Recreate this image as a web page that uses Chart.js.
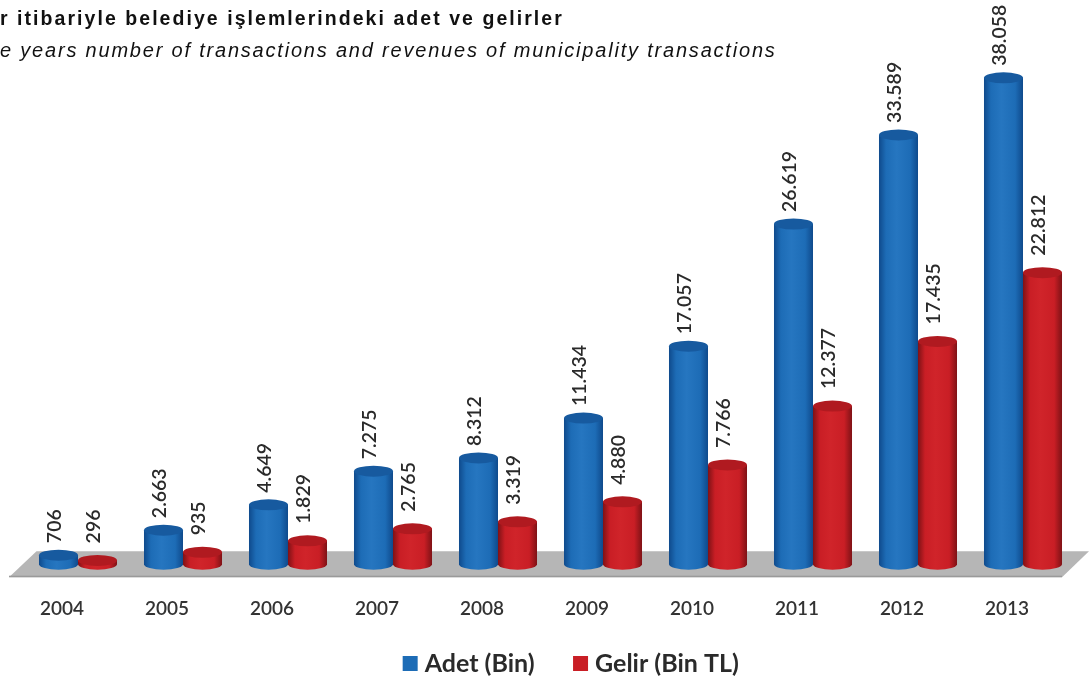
<!DOCTYPE html>
<html><head><meta charset="utf-8">
<style>html,body{margin:0;padding:0;background:#fff}canvas{display:block}</style>
<script src="https://cdn.jsdelivr.net/npm/chart.js@4"></script></head>
<body><canvas id="c" width="1089" height="679"></canvas>
<script>
const years = ['2004','2005','2006','2007','2008','2009','2010','2011','2012','2013'];
const adet = [706,2663,4649,7275,8312,11434,17057,26619,33589,38058];
const gelir = [296,935,1829,2765,3319,4880,7766,12377,17435,22812];
const titleTr = 'r itibariyle belediye işlemlerindeki adet ve gelirler';
const titleEn = 'e years number of transactions and revenues of municipality transactions';
const fmt = v => String(v).replace(/\B(?=(\d{3})+$)/g,'.');
const F = 'Lato, sans-serif';
const tone = [
  {edge:'#0f4a8c', mid:'#1d6cb6', top:'#175a9f', hi:'#2676c0', gap:12},
  {edge:'#7f1216', mid:'#c91e25', top:'#b01a20', hi:'#d0242a', gap:17}
];
const cylinder = {
  id:'cylinder',
  afterLayout(chart){
    const l = chart.legend;
    l.left = 29; l.right = chart.width + 29; l.top = 607; l.bottom = 679; l.height = 72;
  },
  beforeDatasetsDraw(chart){
    const {ctx,chartArea:a} = chart;
    ctx.save();
    ctx.fillStyle='#b6b6b6';
    ctx.beginPath();
    ctx.moveTo(a.left+11,a.bottom-13);ctx.lineTo(a.right+13.5,a.bottom-13);
    ctx.lineTo(a.right-13.5,a.bottom+13);ctx.lineTo(a.left-16.5,a.bottom+13);ctx.closePath();ctx.fill();
    ctx.fillStyle='#9a9a9a';ctx.fillRect(a.left-16.5,a.bottom+11.5,a.right-a.left+3,1.5);
    ctx.restore();
  },
  afterDatasetsDraw(chart){
    const {ctx} = chart;
    ctx.save();
    [0,1].forEach(d=>{
      const t = tone[d];
      chart.getDatasetMeta(d).data.forEach(el=>{
        const w=el.width, l=el.x-w/2, r=el.x+w/2, ry=5.5;
        const g=ctx.createLinearGradient(l,0,r,0);
        g.addColorStop(0,t.edge);g.addColorStop(.18,t.mid);g.addColorStop(.45,t.hi);g.addColorStop(.8,t.mid);g.addColorStop(1,t.edge);
        ctx.fillStyle=g;
        ctx.beginPath();
        ctx.moveTo(l,el.y);ctx.lineTo(r,el.y);ctx.lineTo(r,el.base);
        ctx.ellipse(el.x,el.base,w/2,ry,0,0,Math.PI);
        ctx.closePath();ctx.fill();
        ctx.fillStyle=t.top;
        ctx.beginPath();ctx.ellipse(el.x,el.y,w/2,ry,0,0,Math.PI*2);ctx.fill();
      });
    });
    ctx.restore();
  },
  afterDraw(chart){
    const {ctx} = chart;
    ctx.save();
    ctx.fillStyle='#2a2a2a';ctx.font='600 19.5px '+F;ctx.textAlign='left';ctx.textBaseline='middle';
    [0,1].forEach(d=>{
      chart.getDatasetMeta(d).data.forEach((el,i)=>{
        ctx.save();ctx.translate(el.x-4,el.y-tone[d].gap);ctx.rotate(-Math.PI/2);
        ctx.fillText(fmt(chart.data.datasets[d].data[i]),0,0);ctx.restore();
      });
    });
    ctx.fillStyle='#111';ctx.textBaseline='alphabetic';
    ctx.font='bold 19.5px "Liberation Sans"';ctx.letterSpacing='2.05px';ctx.fillText(titleTr,0,25);
    ctx.font='italic 20px "Liberation Sans"';ctx.letterSpacing='1.8px';ctx.fillText(titleEn,0,57);
    ctx.restore();
  }
};
new Chart(document.getElementById('c'),{
  type:'bar',
  data:{labels:years,datasets:[
    {label:'Adet (Bin)',data:adet,backgroundColor:'#1d6cb6',barPercentage:1,categoryPercentage:.743},
    {label:'Gelir (Bin TL)',data:gelir,backgroundColor:'#c91e25',barPercentage:1,categoryPercentage:.743}
  ]},
  plugins:[cylinder],
  options:{
    responsive:false,animation:false,
    layout:{padding:{left:25.5,right:13.5,top:53,bottom:-45}},
    plugins:{
      tooltip:{enabled:false},
      title:{display:false},
      legend:{position:'bottom',align:'center',
        labels:{usePointStyle:true,pointStyle:'rect',boxWidth:4,boxHeight:15,padding:44,color:'#2a2a2a',font:{family:F,size:25,weight:'bold'}}}
    },
    scales:{
      x:{grid:{display:false},border:{display:false},
        ticks:{color:'#333',font:{family:F,size:19,weight:'600'},labelOffset:-16,padding:25,maxRotation:0,autoSkip:false}},
      y:{display:false,min:0,max:40000}
    }
  }
});
</script></body></html>
